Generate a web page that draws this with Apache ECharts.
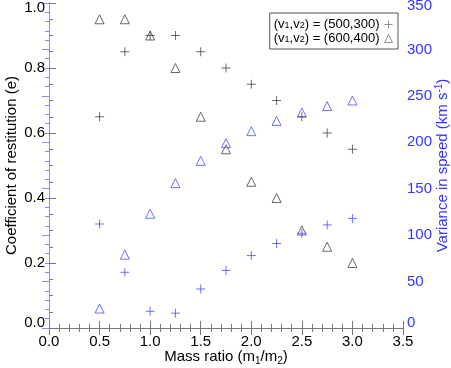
<!DOCTYPE html>
<html><head><meta charset="utf-8">
<script src="https://cdn.jsdelivr.net/npm/echarts@6/dist/echarts.min.js"></script>
<style>html,body{margin:0;padding:0;background:#fff}#c{width:451px;height:368px}</style>
</head><body><div id="c"></div>
<script>
const massRatio = [0.5, 0.75, 1.0, 1.25, 1.5, 1.75, 2.0, 2.25, 2.5, 2.75, 3.0];
const e500 = [0.65, 0.85, 0.90, 0.90, 0.85, 0.80, 0.75, 0.70, 0.65, 0.60, 0.55];
const e600 = [0.95, 0.95, 0.90, 0.80, 0.65, 0.55, 0.45, 0.40, 0.30, 0.25, 0.20];
const var500 = [112, 60, 18, 16, 42, 62, 78, 91, 102, 111, 118];
const var600 = [21, 79, 123, 156, 180, 199, 212, 223, 232, 239, 245];
const xTicks = [0.0, 0.5, 1.0, 1.5, 2.0, 2.5, 3.0, 3.5];
const leftTicks = [0.0, 0.2, 0.4, 0.6, 0.8, 1.0];
const rightTicks = [0, 50, 100, 150, 200, 250, 300, 350];

const BLK = '#444';
const BLUE = '#3535ff';
const BLUE_MARK = '#4b4bff';
const plusPath = 'path://M0,-5 L0,5 M-5,0 L5,0';
const pairs = (xs, ys) => xs.map((x, i) => [x, ys[i]]);
const font = 'Liberation Sans, Arial, sans-serif';

const chart = echarts.init(document.getElementById('c'), null, {renderer: 'canvas'});
const subRich = (color) => ({
  n: {fontSize: 15, color, fontFamily: font, lineHeight: 18},
  s: {fontSize: 10, color, fontFamily: font, verticalAlign: 'bottom', lineHeight: 18, padding: [4, 0, 0, 0]},
  p: {fontSize: 10, color, fontFamily: font, verticalAlign: 'top', lineHeight: 18}
});
const edgeRich = (color, topPad, botPad) => ({
  hi: {fontSize: 15, color, fontFamily: font, padding: [topPad, 0, 0, 0]},
  lo: {fontSize: 15, color, fontFamily: font, padding: [0, 0, botPad, 0]}
});
const edgeLabel = (ticks, fmt) => (v) => {
  const t = ticks.find(x => Math.abs(x - v) < 1e-6);
  if (t === undefined) return '';
  const s = fmt(t);
  if (t === ticks[ticks.length - 1]) return '{hi|' + s + '}';
  if (t === ticks[0]) return '{lo|' + s + '}';
  return s;
};

const mkSeries = (name, data, yIdx, symbol, color, size) => ({
  name, type: 'scatter', data, xAxisIndex: 0, yAxisIndex: yIdx,
  symbol, symbolSize: size,
  itemStyle: {color: 'rgba(0,0,0,0)', borderColor: color, borderWidth: 1},
  emphasis: {disabled: true}, animation: false, z: 3
});

chart.setOption({
  animation: false,
  textStyle: {fontFamily: font},
  grid: {left: 49, right: 48, top: 3, bottom: 40, containLabel: false, outerBoundsMode: 'none'},
  legend: {
    data: ['A', 'B'], orient: 'vertical', right: 53, top: 13,
    align: 'right', itemWidth: 8, itemHeight: 8, itemGap: 0,
    padding: [4, 5, 4, 4], borderColor: '#555', borderWidth: 1, backgroundColor: '#fff',
    selectedMode: false,
    itemStyle: {color: 'rgba(0,0,0,0)', borderColor: '#777', borderWidth: 1},
    formatter: (n) => n === 'A' ? '{n|(v}{s|1}{n|,v}{s|2}{n|) = (500,300)}' : '{n|(v}{s|1}{n|,v}{s|2}{n|) = (600,400)}',
    textStyle: {fontSize: 13, fontFamily: font, color: '#000', rich: {
      n: {fontSize: 13, color: '#000', fontFamily: font, lineHeight: 11},
      s: {fontSize: 9, color: '#000', fontFamily: font, verticalAlign: 'bottom', lineHeight: 11, padding: [4, 0, 0, 0]}
    }}
  },
  xAxis: [{
    type: 'value', position: 'bottom', min: 0, max: 3.5, interval: 0.5,
    name: '{n|Mass ratio (m}{s|1}{n|/m}{s|2}{n|)}', nameLocation: 'middle', nameGap: 20,
    nameMoveOverlap: false,
    nameTextStyle: {rich: subRich('#000')},
    axisLine: {show: true, lineStyle: {color: '#777', width: 1}},
    axisTick: {show: true, inside: true, length: 7, lineStyle: {color: '#777'}},
    minorTick: {show: true, splitNumber: 5, length: 4, lineStyle: {color: '#777'}},
    splitLine: {show: false},
    axisLabel: {color: '#000', fontSize: 15, margin: 6, fontFamily: font,
      formatter: (v) => { const t = xTicks.find(x => Math.abs(x - v) < 1e-6); return t === undefined ? '' : t.toFixed(1); }}
  }, {
    type: 'value', position: 'top', min: 0, max: 3.5, interval: 0.5,
    axisLine: {show: true, lineStyle: {color: '#777', width: 1}},
    axisTick: {show: true, inside: true, length: 7, lineStyle: {color: '#777'}},
    minorTick: {show: true, splitNumber: 5, length: 4, lineStyle: {color: '#777'}},
    splitLine: {show: false}, axisLabel: {show: false}
  }],
  yAxis: [{
    type: 'value', position: 'left', min: 0, max: 1.0, interval: 0.2,
    name: 'Coefficient of restitution (e)', nameLocation: 'middle', nameGap: 30, nameRotate: 90,
    nameMoveOverlap: false,
    nameTextStyle: {color: '#000', fontSize: 15, fontFamily: font},
    axisLine: {show: true, lineStyle: {color: '#777', width: 1}},
    axisTick: {show: true, inside: true, length: 7, lineStyle: {color: '#777'}},
    minorTick: {show: true, splitNumber: 4, length: 4, lineStyle: {color: '#777'}},
    splitLine: {show: false},
    axisLabel: {color: '#000', fontSize: 15, margin: 4, fontFamily: font,
      rich: edgeRich('#000', 9, 10),
      formatter: edgeLabel(leftTicks, (t) => t.toFixed(1))}
  }, {
    type: 'value', position: 'right', min: 0, max: 350, interval: 50,
    name: '{n|Variance in speed (km s}{p|-1}{n|)}', nameLocation: 'middle', nameGap: 31, nameRotate: 90,
    nameMoveOverlap: false,
    nameTextStyle: {rich: subRich(BLUE)},
    axisLine: {show: true, lineStyle: {color: '#8888ff', width: 1}},
    axisTick: {show: true, inside: true, length: 7, lineStyle: {color: '#8888ff'}},
    minorTick: {show: true, splitNumber: 5, length: 4, lineStyle: {color: '#8888ff'}},
    splitLine: {show: false},
    axisLabel: {color: BLUE, fontSize: 15, margin: 4, fontFamily: font,
      rich: edgeRich(BLUE, 6, 11),
      formatter: edgeLabel(rightTicks, (t) => String(t))}
  }],
  series: [
    mkSeries('A', pairs(massRatio, e500), 0, plusPath, BLK, 9),
    mkSeries('B', pairs(massRatio, e600), 0, 'triangle', BLK, 9),
    mkSeries('C', pairs(massRatio, var500), 1, plusPath, BLUE_MARK, 9),
    mkSeries('D', pairs(massRatio, var600), 1, 'triangle', BLUE_MARK, 9)
  ]
});
</script></body></html>
